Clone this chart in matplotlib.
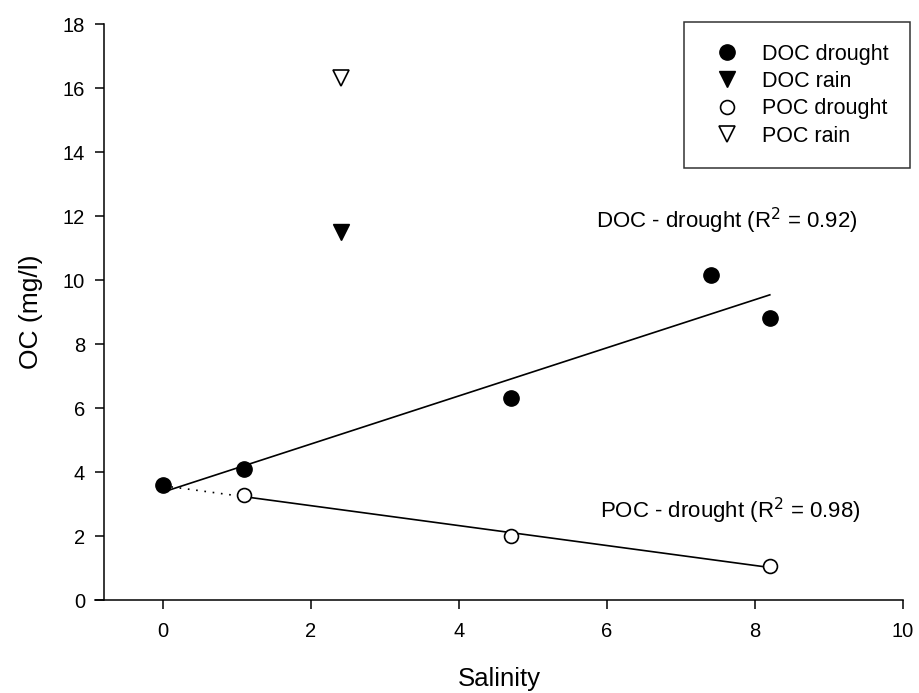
import numpy as np
import matplotlib
matplotlib.use("Agg")
import matplotlib.pyplot as plt

plt.rcParams['font.family'] = ['Liberation Sans', 'DejaVu Sans']

# salinity / organic carbon measurements
doc_drought_x = [0.0, 1.1, 4.7, 7.4, 8.2]
doc_drought_y = [3.6, 4.1, 6.3, 10.15, 8.8]
doc_rain_x = [2.4]
doc_rain_y = [11.5]
poc_drought_x = [1.1, 4.7, 8.2]
poc_drought_y = [3.28, 2.0, 1.07]
poc_rain_x = [2.4]
poc_rain_y = [16.3]

x_ticks = [0, 2, 4, 6, 8, 10]
y_ticks = [0, 2, 4, 6, 8, 10, 12, 14, 16, 18]

fig = plt.figure(figsize=(9.2, 6.93), dpi=100)
ax = fig.add_axes([95 / 920, 1 - 600 / 693, 808 / 920, 576 / 693])

# linear fits
doc_fit = np.polyfit(doc_drought_x, doc_drought_y, 1)
poc_fit = np.polyfit(poc_drought_x, poc_drought_y, 1)

xs = np.array([0.0, 8.2])
ax.plot(xs, np.polyval(doc_fit, xs), color='black', lw=1.2, zorder=2)
xs = np.array([1.1, 8.2])
ax.plot(xs, np.polyval(poc_fit, xs), color='black', lw=1.2, zorder=2)
# extrapolated part of the POC fit
xs = np.array([0.0, 1.1])
ax.plot(xs, np.polyval(poc_fit, xs), color='black', lw=1.2, ls=(0, (1, 4)), zorder=2)

ms = 11
ax.plot(doc_drought_x, doc_drought_y, 'o', color='black', ms=ms, ls='none',
        label='DOC drought', zorder=3)
ax.plot(doc_rain_x, doc_rain_y, 'v', color='black', ms=ms, ls='none',
        label='DOC rain', zorder=3)
ax.plot(poc_drought_x, poc_drought_y, 'o', mfc='white', mec='black', mew=1.2,
        ms=ms - 1, ls='none', label='POC drought', zorder=3)
ax.plot(poc_rain_x, poc_rain_y, 'v', mfc='white', mec='black', mew=1.2,
        ms=ms, ls='none', label='POC rain', zorder=3)

ax.text(7.62, 11.84, 'DOC - drought (R$^2$ = 0.92)',
        ha='center', va='center', fontsize=16)
ax.text(7.66, 2.78, 'POC - drought (R$^2$ = 0.98)',
        ha='center', va='center', fontsize=16)

ax.set_xlim(-0.92, 10)
ax.set_ylim(0, 18)
ax.set_xticks(x_ticks)
ax.set_yticks(y_ticks)

for side in ['top', 'right']:
    ax.spines[side].set_visible(False)
ax.spines['left'].set_position(('data', -0.8))
for side in ['left', 'bottom']:
    ax.spines[side].set_linewidth(1.1)
ax.tick_params(direction='out', length=6.5, width=1.1, labelsize=14.5, pad=7)
ax.tick_params(axis='x', pad=9)

ax.set_xlabel('Salinity', fontsize=18.5, labelpad=19)
ax.set_ylabel('OC (mg/l)', fontsize=19, labelpad=14)

leg = ax.legend(loc='upper right', bbox_to_anchor=(910 / 920, 1 - 22 / 693),
                bbox_transform=fig.transFigure, fontsize=15.5, frameon=True,
                fancybox=False, edgecolor='black', borderpad=1.0,
                handletextpad=0.6, labelspacing=0.3, borderaxespad=0,
                handlelength=2.0)
leg.get_frame().set_linewidth(1.1)

fig.savefig('out.png', dpi=100)
